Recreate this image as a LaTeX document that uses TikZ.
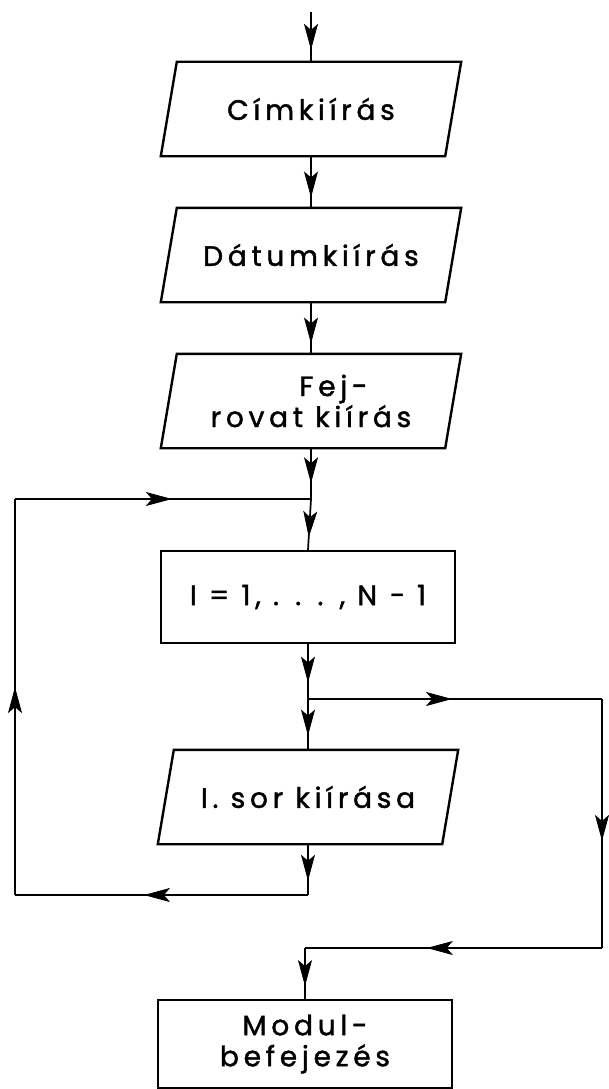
\documentclass[tikz,border=0pt]{standalone}
\usepackage{fontspec}
\newfontfamily\flowfont[LetterSpace=17, FakeBold=1.5]{Poppins}
\usetikzlibrary{arrows.meta,decorations.markings}
\begin{document}
\begin{tikzpicture}[x=1pt, y=-1pt,
    box/.style={line width=2.4pt, rectangle, minimum width=#1, minimum height=92pt, inner sep=0pt,
        font=\flowfont\fontsize{28}{31}\selectfont, align=center},
    proc/.style={box=294pt, draw},
    io/.style={box=282pt},
    flow/.style={line width=1.7pt, postaction={decorate},
        decoration={markings, mark=at position #1 with {\arrow{Stealth[length=26pt, width=14pt, inset=6pt, line width=0.8pt]}}}}]
            \useasboundingbox (0, 0) rectangle (608, 1089);
            \node[io] (cim) at (311, 109) {Címkiírás};
            \node[io] (datum) at (311, 255) {Dátumkiírás};
            \node[io] (fej) at (311, 401) {\hspace*{1.6em}Fej-\\rovat kiírás};
            \node[proc] (ciklus) at (308, 597) {I = 1, . . . , N − 1};
            \node[io] (sor) at (308, 797) {I. sor kiírása};
            \node[proc, minimum height=88pt] (modul) at (305, 1044) {Modul-\\befejezés};
            \foreach \n in {cim, datum, fej, sor}
                \draw[line width=2.4pt] ([xshift=8]\n.north west) -- ([xshift=8]\n.north east) -- ([xshift=-8]\n.south east) -- ([xshift=-8]\n.south west) -- cycle;
            \coordinate (be) at (311, 12);
            \coordinate (j1) at (311, 499);
            \coordinate (bal1) at (15, 499);
            \coordinate (bal2) at (15, 895);
            \coordinate (j4) at (308, 895);
            \coordinate (j2) at (308, 699);
            \coordinate (jobb1) at (602, 699);
            \coordinate (jobb2) at (602, 948);
            \coordinate (j3) at (305, 948);
            \draw[flow=0.76] (be) -- (cim.north);
            \draw[flow=0.8] (cim.south) -- (datum.north);
            \draw[flow=0.8] (datum.south) -- (fej.north);
            \draw[flow=0.69] (fej.south) -- (j1);
            \draw[flow=0.75] (j1) -- (ciklus.north);
            \draw[flow=0.7] (ciklus.south) -- (j2);
            \draw[flow=0.72] (j2) -- (sor.north);
            \draw[flow=0.72] (sor.south) -- (j4);
            \draw[flow=0.56] (j4) -- (bal2);
            \draw[flow=0.525] (bal2) -- (bal1);
            \draw[flow=0.53] (bal1) -- (j1);
            \draw[flow=0.49] (j2) -- (jobb1);
            \draw[flow=0.57] (jobb1) -- (jobb2);
            \draw[flow=0.59] (jobb2) -- (j3);
            \draw[flow=0.75] (j3) -- (modul.north);
        \end{tikzpicture}
\end{document}
